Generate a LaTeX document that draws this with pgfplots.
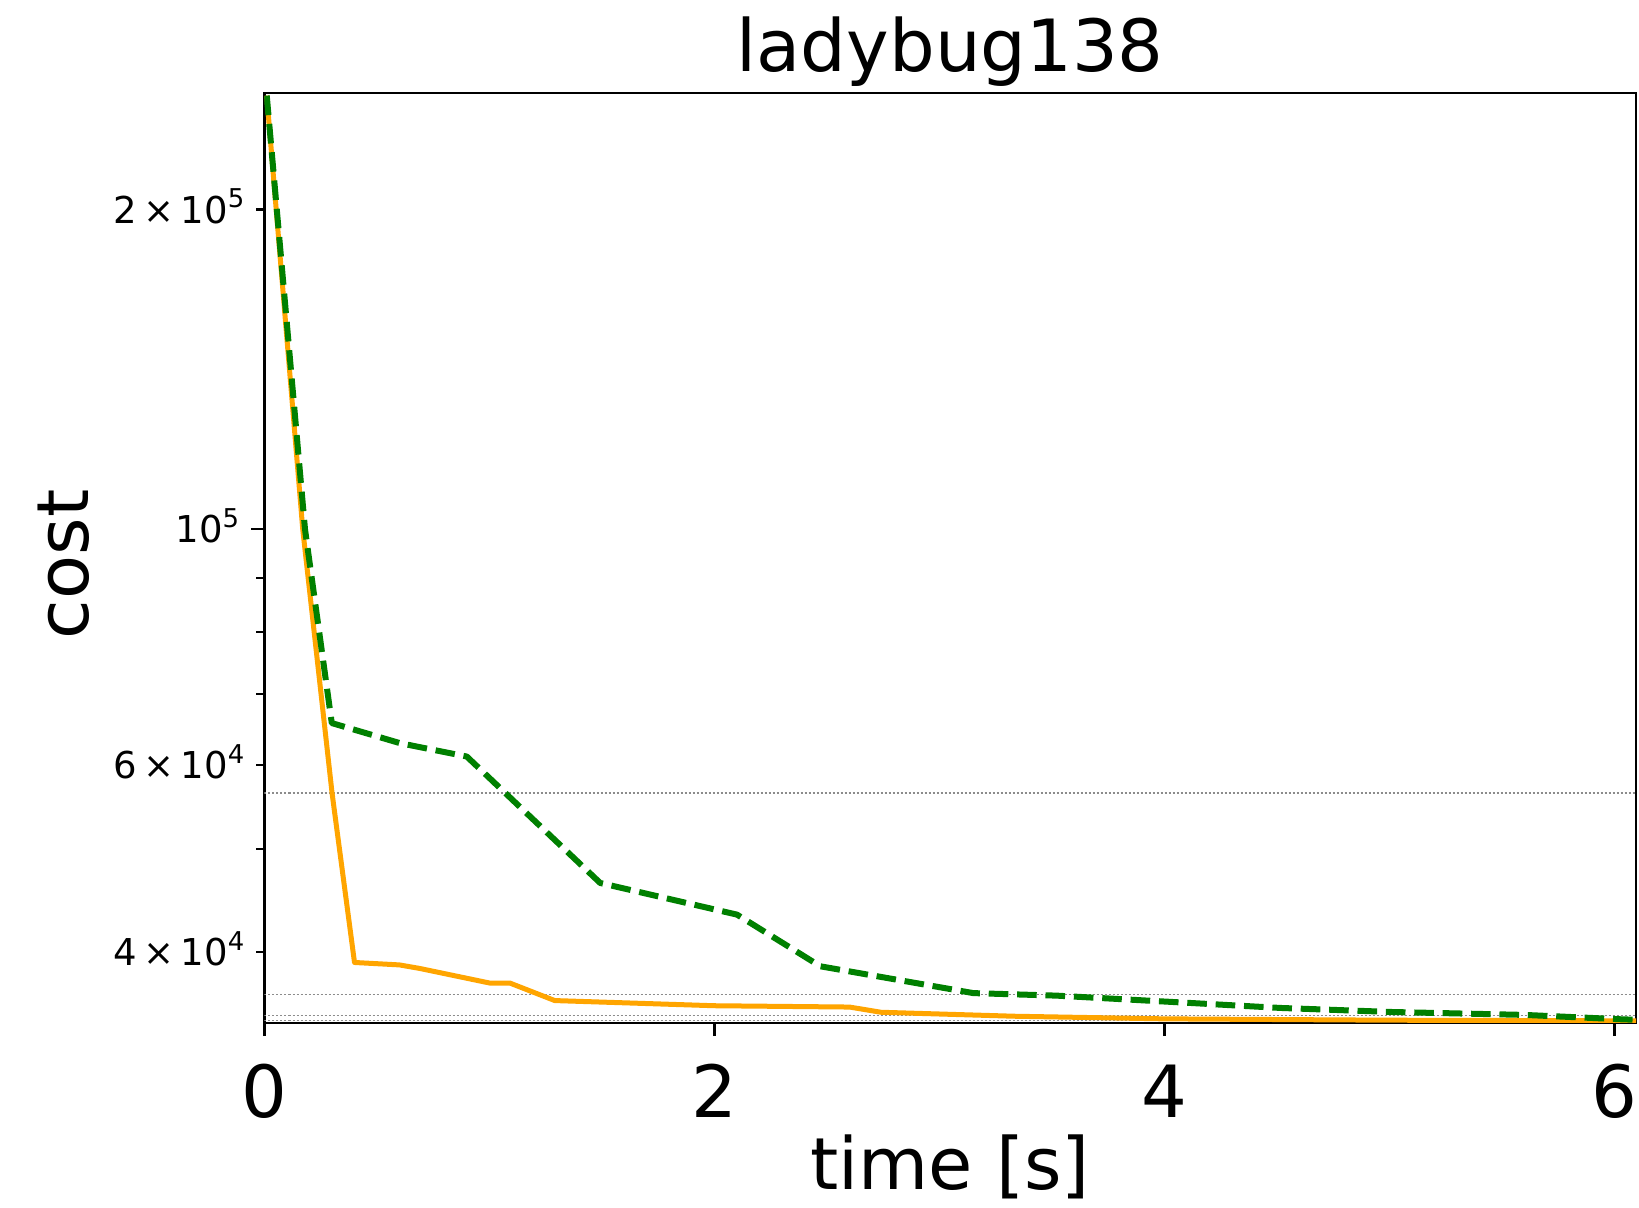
\documentclass[border=0pt]{standalone}
\usepackage{fontspec}
\setmainfont{DejaVu Sans}
\usepackage{pgfplots}
\pgfplotsset{compat=1.18}

\definecolor{mplorange}{HTML}{FFA500}
\definecolor{mplgreen}{HTML}{008000}

% cost over time, solid orange run
\pgfplotstableread{
t      cost
0.01   256000
0.17   100000
0.30   56500
0.40   39100
0.60   38900
0.69   38600
1.00   37400
1.09   37400
1.29   36000
2.00   35600
2.60   35500
2.74   35100
3.33   34800
4.00   34600
5.00   34500
6.10   34450
}\runA

% cost over time, dashed green run
\pgfplotstableread{
t      cost
0.01   256000
0.18   100000
0.299  65700
0.602  62900
0.899  61100
1.492  46450
2.10   43370
2.47   38780
3.15   36590
3.52   36390
4.07   35860
4.515  35430
5.01   35120
5.60   34900
6.03   34570
6.10   34530
}\runB

\begin{document}
\begin{tikzpicture}
\path[use as bounding box] (-66.125pt,-46.25pt) rectangle (343.625pt,255.75pt);
\begin{axis}[
  scale only axis,
  width=342.875pt, height=232.5pt,
  xmin=0, xmax=6.095,
  ymode=log, ymin=34300, ymax=257500,
  axis line style={line width=0.7pt},
  tick pos=left,
  tick align=outside,
  major tick length=3.3pt,
  minor tick length=2pt,
  every tick/.style={black, line width=0.6pt},
  xtick={0,2,4,6},
  xticklabels={0,2,4,6},
  xticklabel style={font=\fontsize{18}{20}\selectfont, anchor=base, yshift=-20.25pt},
  ytick={100000},
  yticklabels={10\textsuperscript{5}},
  minor ytick={50000,70000,80000,90000},
  extra y ticks={40000,60000,200000},
  extra y tick labels={4\,×\,10\textsuperscript{4},6\,×\,10\textsuperscript{4},2\,×\,10\textsuperscript{5}},
  extra y tick style={major tick length=2pt},
  yticklabel style={font=\fontsize{9.25}{11}\selectfont, anchor=base east, yshift=-3.37pt, xshift=1pt},
  title={ladybug138},
  every axis title/.style={font=\fontsize{18}{20}\selectfont, at={(axis description cs:0.5,1)}, anchor=base, yshift=5.3pt},
  xlabel={time [s]},
  xlabel style={font=\fontsize{18}{20}\selectfont, at={(axis description cs:0.5,0)}, anchor=base, yshift=-41.75pt},
  ylabel={cost},
  ylabel style={font=\fontsize{18}{20}\selectfont, at={(axis description cs:-0.128,0.493)}, rotate=0, anchor=base},
  clip=true,
]
% reference cost levels
\addplot[black!45, line width=0.4pt, dash pattern=on 0.5pt off 0.5pt, forget plot] coordinates {(0,56440) (6.095,56440)};
\addplot[black!45, line width=0.4pt, dash pattern=on 0.5pt off 0.5pt, forget plot] coordinates {(0,36470) (6.095,36470)};
\addplot[black!45, line width=0.4pt, dash pattern=on 0.5pt off 0.5pt, forget plot] coordinates {(0,34850) (6.095,34850)};
\addplot[black!45, line width=0.4pt, dash pattern=on 0.5pt off 0.5pt, forget plot] coordinates {(0,34470) (6.095,34470)};

\addplot[mplorange, line width=1.25pt, line join=round, no marks] table[x=t, y=cost] {\runA};
\addplot[mplgreen, line width=1.5pt, line join=round, dash pattern=on 4.9pt off 2.2pt, no marks] table[x=t, y=cost] {\runB};
\end{axis}
\end{tikzpicture}
\end{document}
